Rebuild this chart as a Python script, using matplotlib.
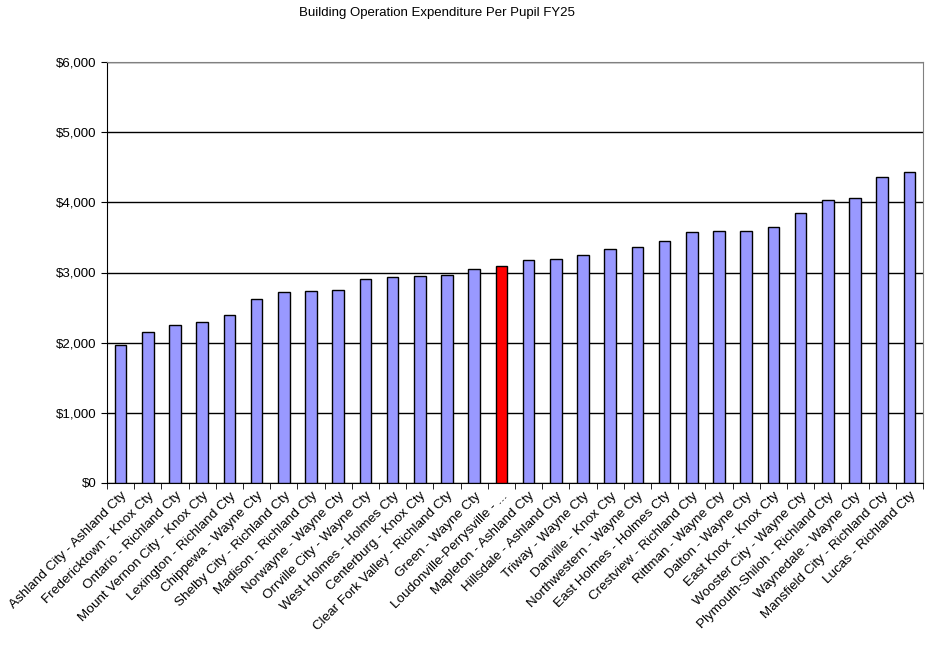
import matplotlib
matplotlib.use("Agg")
from matplotlib import pyplot as plt
from matplotlib.ticker import FuncFormatter, FixedLocator

districts = [
    "Ashland City - Ashland Cty", "Fredericktown - Knox Cty", "Ontario - Richland Cty",
    "Mount Vernon City - Knox Cty", "Lexington - Richland Cty", "Chippewa - Wayne Cty",
    "Shelby City - Richland Cty", "Madison - Richland Cty", "Norwayne - Wayne Cty",
    "Orrville City - Wayne Cty", "West Holmes - Holmes Cty", "Centerburg - Knox Cty",
    "Clear Fork Valley - Richland Cty", "Green - Wayne Cty", "Loudonville-Perrysville - ...",
    "Mapleton - Ashland Cty", "Hillsdale - Ashland Cty", "Triway - Wayne Cty",
    "Danville - Knox Cty", "Northwestern - Wayne Cty", "East Holmes - Holmes Cty",
    "Crestview - Richland Cty", "Rittman - Wayne Cty", "Dalton - Wayne Cty",
    "East Knox - Knox Cty", "Wooster City - Wayne Cty", "Plymouth-Shiloh - Richland Cty",
    "Waynedale - Wayne Cty", "Mansfield City - Richland Cty", "Lucas - Richland Cty",
]
spending = [1962, 2157, 2257, 2300, 2400, 2629, 2729, 2743, 2757, 2905,
            2929, 2943, 2971, 3057, 3086, 3183, 3197, 3254, 3338, 3366,
            3451, 3577, 3592, 3592, 3648, 3845, 4028, 4066, 4366, 4437]
highlight = "Loudonville-Perrysville - ..."

plt.rcParams['font.family'] = ['Liberation Sans', 'DejaVu Sans']

fig = plt.figure(figsize=(9.36, 6.5), dpi=100)
ax = fig.add_axes([107/936, 1 - 483/650, 816/936, 421/650])

colors = ["#ff0000" if d == highlight else "#9999ff" for d in districts]
x = list(range(len(districts)))
ax.bar(x, spending, width=0.42, color=colors, edgecolor="black", linewidth=1, zorder=3)

ax.set_ylim(0, 6000)
ax.set_xlim(-0.5, len(districts) - 0.5)
ax.set_yticks(range(0, 6001, 1000))
ax.yaxis.set_major_formatter(FuncFormatter(lambda v, p: "${:,.0f}".format(v)))
ax.yaxis.grid(True, color="black", linewidth=1, zorder=0)

ax.set_xticks(x)
ax.set_xticklabels(districts, rotation=45, ha="right", rotation_mode="anchor", fontsize=9.7)
ax.xaxis.set_minor_locator(FixedLocator([i + 0.5 for i in range(-1, len(districts))]))
ax.tick_params(axis="x", which="major", length=0, pad=5)
ax.tick_params(axis="x", which="minor", length=4, color="black")
ax.tick_params(axis="y", length=4, labelsize=9.5)

for s in ["top", "right"]:
    ax.spines[s].set_color("#808080")
for s in ["left", "bottom"]:
    ax.spines[s].set_color("black")

fig.text(437/936, 1 - 13/650, "Building Operation Expenditure Per Pupil FY25",
         ha="center", va="center", fontsize=9.5)

fig.savefig("out.png", dpi=100)
